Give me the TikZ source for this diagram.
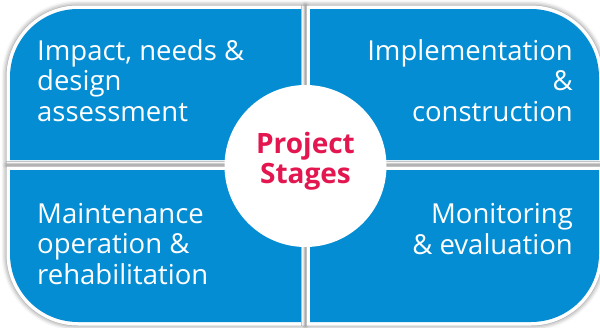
\documentclass[tikz,border=0pt]{standalone}
\usepackage{fontspec}
\setmainfont{Open Sans}
\usetikzlibrary{shadows.blur}
\definecolor{boxblue}{RGB}{4,141,211}
\definecolor{stagepink}{RGB}{228,22,80}
\tikzset{
  outer/.style={fill=white, blur shadow={shadow xshift=0pt, shadow yshift=0pt, shadow blur radius=5pt, shadow opacity=55}},
  inner/.style={fill=boxblue},
  boxtext/.style={text=white, inner sep=0pt, font=\fontsize{27.5}{30.5}\selectfont},
  hub/.style={circle, fill=white, minimum size=162pt, inner sep=0pt},
  hubtext/.style={text=stagepink, inner sep=0pt, font=\fontsize{28}{30}\selectfont\bfseries, align=center}
}
\begin{document}
\begin{tikzpicture}[x=1pt,y=-1pt]
\useasboundingbox (0,0) rectangle (600,327);
% top-left
\path[outer] (304.5,5.5) -- (78,5.5) arc (270:180:71.5) -- (6.5,163.5) -- (304.5,163.5) -- cycle;
\path[inner] (301,9) -- (78,9) arc (270:180:68) -- (10,160) -- (301,160) -- cycle;
% top-right
\path[outer] (306.5,5.5) -- (531,5.5) arc (270:360:71.5) -- (602.5,163.5) -- (306.5,163.5) -- cycle;
\path[inner] (310,9) -- (531,9) arc (270:360:68) -- (599,160) -- (310,160) -- cycle;
% bottom-left
\path[outer] (304.5,166.5) -- (6.5,166.5) -- (6.5,254) arc (180:90:71.5) -- (304.5,325.5) -- cycle;
\path[inner] (301,170) -- (10,170) -- (10,254) arc (180:90:68) -- (301,322) -- cycle;
% bottom-right
\path[outer] (306.5,166.5) -- (602.5,166.5) -- (602.5,254) arc (0:90:71.5) -- (306.5,325.5) -- cycle;
\path[inner] (310,170) -- (599,170) -- (599,254) arc (0:90:68) -- (310,322) -- cycle;
% texts (anchor = baseline of last line)
\node[boxtext, align=left, anchor=base west] (tl) at (37,121) {Impact, needs \&\\design\\assessment};
\node[boxtext, align=right, anchor=base east] (tr) at (573,121) {Implementation\\\&\\construction};
\node[boxtext, align=left, anchor=base west] (bl) at (37,284) {Maintenance\\operation \&\\rehabilitation};
\node[boxtext, align=right, anchor=base east] (br) at (573,254) {Monitoring\\\& evaluation};
% hub
\node[hub] (hub) at (305.5,166) {};
\node[hubtext, anchor=base] (hubt) at (305.5,183) {Project\\Stages};
\end{tikzpicture}
\end{document}
